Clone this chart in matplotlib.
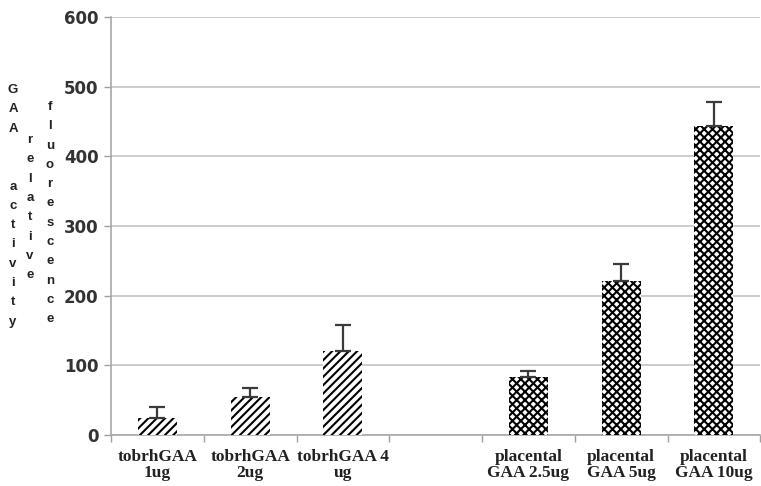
import numpy as np
import matplotlib.pyplot as plt

plt.rcParams['hatch.linewidth'] = 1.5

# data
categories = ['tobrhGAA\n1ug', 'tobrhGAA\n2ug', 'tobrhGAA 4\nug', '',
              'placental\nGAA 2.5ug', 'placental\nGAA 5ug', 'placental\nGAA 10ug']
values = [25, 54, 121, np.nan, 83, 221, 443]
errors = [15, 13, 37, np.nan, 9, 25, 35]
hatches = ['////', '////', '////', '', 'xxxx', 'xxxx', 'xxxx']

ylabel_cols = ['GAA  activity', 'relative', 'fluorescence']

fig = plt.figure(figsize=(7.61, 4.86), dpi=100)
ax = fig.add_axes([0.146, 0.105, 0.853, 0.86])

x = np.arange(len(categories))
for i in range(len(categories)):
    if np.isnan(values[i]):
        continue
    ax.bar(x[i], values[i], width=0.42, color='white', edgecolor='black',
           hatch=hatches[i], linewidth=0, zorder=3)
    ax.errorbar(x[i], values[i], yerr=[[0], [errors[i]]], fmt='none',
                ecolor='#3a3a3a', elinewidth=1.6, capsize=5.5, capthick=1.6,
                zorder=4)

ax.set_xlim(-0.5, len(categories) - 0.5)
ax.set_ylim(0, 600)
ax.set_yticks(range(0, 601, 100))
ax.grid(axis='y', color='#c4c4c4', linewidth=1.2, zorder=0)
ax.set_axisbelow(True)

# category boundary ticks, labels centred under bars
ax.set_xticks(np.arange(-0.5, len(categories), 1.0))
ax.set_xticklabels([])
ax.set_xticks(x, minor=True)
ax.set_xticklabels(categories, minor=True, family='Liberation Serif',
                   fontweight='bold', fontsize=12.5, color='#222222',
                   linespacing=1.0)
ax.tick_params(axis='x', which='minor', length=0, pad=10)
ax.tick_params(axis='x', which='major', length=5, color='#a0a0a0', width=1)
ax.tick_params(axis='y', length=5, color='#a0a0a0', width=1,
               labelsize=12, labelcolor='#333333', pad=4)
for lab in ax.get_yticklabels():
    lab.set_fontweight('bold')

for s in ['top', 'right']:
    ax.spines[s].set_visible(False)
for s in ['left', 'bottom']:
    ax.spines[s].set_color('#a8a8a8')
    ax.spines[s].set_linewidth(1.2)

# stacked vertical y label, three columns
col_x = [13, 30, 50]
col_y0 = [90, 140, 107]
step = 19.3
for cx, cy, word in zip(col_x, col_y0, ylabel_cols):
    for k, ch in enumerate(word):
        if ch == ' ':
            continue
        fig.text(cx / 761, 1 - (cy + k * step) / 486, ch, ha='center',
                 va='center', fontsize=9.5, fontweight='bold',
                 family='Liberation Sans', color='#222222')

plt.savefig('out.png', dpi=100)
